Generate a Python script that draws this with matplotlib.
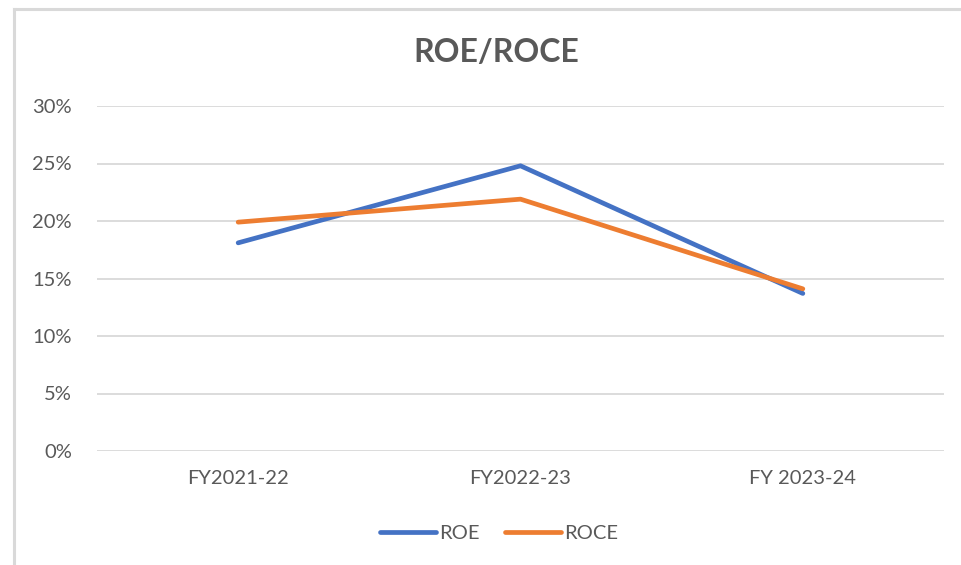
import matplotlib.pyplot as plt
from matplotlib.lines import Line2D
from matplotlib.ticker import PercentFormatter

plt.rcParams['font.family'] = ['Lato', 'DejaVu Sans']

years = ["FY2021-22", "FY2022-23", "FY 2023-24"]
roe = [18.1, 24.8, 13.7]
roce = [19.9, 21.9, 14.1]

TEXT = "#595959"

fig = plt.figure(figsize=(9.61, 5.65), dpi=100)
ax = fig.add_axes([97 / 961, 114 / 565, 847 / 961, 345 / 565])

x = range(len(years))
ax.plot(x, roe, color="#4472C4", lw=3.4, solid_capstyle="round", label="ROE", zorder=3)
ax.plot(x, roce, color="#ED7D31", lw=3.4, solid_capstyle="round", label="ROCE", zorder=3)

ax.set_xlim(-0.5, len(years) - 0.5)
ax.set_ylim(0, 30)
ax.set_yticks(range(0, 31, 5))
ax.yaxis.set_major_formatter(PercentFormatter(decimals=0))
ax.set_xticks(list(x))
ax.set_xticklabels(years)
ax.grid(axis="y", color="#d9d9d9", lw=1.3)
ax.set_axisbelow(True)
for s in ax.spines.values():
    s.set_visible(False)
ax.tick_params(length=0, labelsize=14.5, labelcolor=TEXT)
ax.tick_params(axis="y", pad=18)
ax.tick_params(axis="x", pad=14)

fig.text(496 / 961, 1 - 52 / 565, "ROE/ROCE", ha="center", va="center",
         fontsize=23, fontweight="bold", color=TEXT)

leg = fig.legend(loc="center", bbox_to_anchor=(499 / 961, 1 - 533 / 565), ncol=2,
                 frameon=False, fontsize=14.5, handlelength=2.75, handletextpad=0.15,
                 columnspacing=1.3)
for t in leg.get_texts():
    t.set_color(TEXT)

# light chart border
fig.add_artist(Line2D([14 / 961, 14 / 961], [0, 1 - 9 / 565], color="#d9d9d9", lw=2.2,
                      transform=fig.transFigure))
fig.add_artist(Line2D([14 / 961, 1], [1 - 9 / 565, 1 - 9 / 565], color="#d9d9d9", lw=2.2,
                      transform=fig.transFigure))

fig.savefig("out.png", dpi=100)
